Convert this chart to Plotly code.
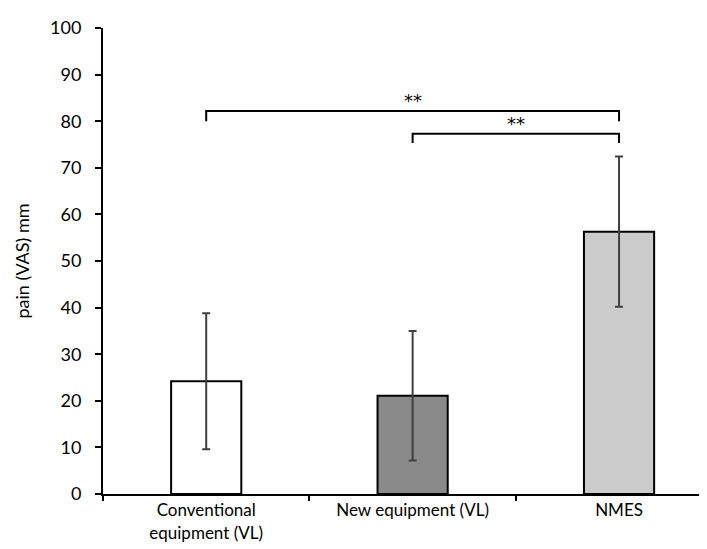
import plotly.graph_objects as go

categories = ["Conventional<br>equipment (VL)", "New equipment (VL)", "NMES"]
means = [24.2, 21.1, 56.3]
errors = [14.6, 13.9, 16.1]
bar_colors = ["#ffffff", "#8a8a8a", "#cbcbcb"]
y_ticks = [0, 10, 20, 30, 40, 50, 60, 70, 80, 90, 100]

# significance comparisons: (from index, to index, bracket height, drop height, label)
comparisons = [
    (0, 2, 82.2, 80.0, "**"),
    (1, 2, 77.3, 75.3, "**"),
]

fig = go.Figure()
fig.add_trace(go.Bar(
    x=categories, y=means,
    marker=dict(color=bar_colors, line=dict(color="#000000", width=2)),
    width=0.34,
    error_y=dict(type="data", array=errors, visible=True,
                 color="#404040", thickness=2, width=4),
    showlegend=False,
))

for a, b, h, d, lab in comparisons:
    fig.add_shape(type="path",
                  path=f"M {a},{d} L {a},{h} L {b},{h} L {b},{d}",
                  xref="x", yref="y", line=dict(color="#000000", width=2))
    fig.add_annotation(x=(a + b) / 2, y=h, text=lab, showarrow=False,
                       xref="x", yref="y", yanchor="bottom", yshift=-2,
                       font=dict(size=18, color="#000000",
                                 family="DejaVu Sans, sans-serif"))

font_family = "Lato, 'Open Sans', sans-serif"
fig.update_layout(
    width=707, height=549,
    margin=dict(l=95, r=1, t=20, b=63),
    paper_bgcolor="#ffffff", plot_bgcolor="#ffffff",
    font=dict(family=font_family, size=17, color="#000000"),
    xaxis=dict(
        range=[-0.5, 2.46],
        showline=True, linecolor="#000000", linewidth=2,
        ticks="outside", tickson="boundaries", ticklen=5, tickwidth=2,
        tickcolor="#000000", showgrid=False, zeroline=False,
        ticklabelstandoff=0,
        tickfont=dict(size=17, family=font_family),
    ),
    yaxis=dict(
        range=[0, 100], tickvals=y_ticks,
        showline=True, linecolor="#000000", linewidth=2,
        ticks="outside", ticklen=6, tickwidth=2, tickcolor="#000000",
        showgrid=False, zeroline=False,
        ticklabelstandoff=10,
        tickfont=dict(size=18, family=font_family),
        title=dict(text="pain (VAS) mm", font=dict(size=18, family=font_family), standoff=16),
    ),
)

fig.write_html("out.html")
